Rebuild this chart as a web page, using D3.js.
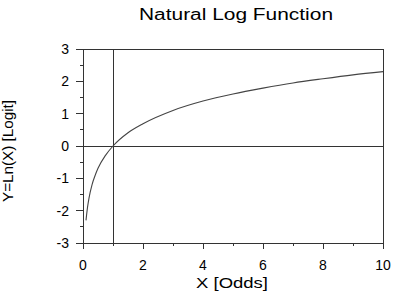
<!DOCTYPE html>
<html><head><meta charset="utf-8">
<script src="https://cdn.jsdelivr.net/npm/d3@7"></script>
<style>body{margin:0;background:#fff}svg{display:block}text{font-family:"Liberation Sans",Arial,sans-serif}</style>
</head><body><svg id="c" width="397" height="295"></svg>
<script>
const title = "Natural Log Function";
const xLabel = "X [Odds]";
const yLabel = "Y=Ln(X) [Logit]";
const xTicks = [0, 2, 4, 6, 8, 10];
const yTicks = [-3, -2, -1, 0, 1, 2, 3];
const xs = [0.1, 0.15, 0.2, 0.3, 0.4, 0.5, 0.75, 1, 1.5, 2, 3, 4, 5, 6, 7, 8, 9, 10];
const ys = [-2.30, -1.90, -1.61, -1.20, -0.92, -0.69, -0.29, 0, 0.41, 0.69, 1.10, 1.39, 1.61, 1.79, 1.95, 2.08, 2.20, 2.30];
const refX = [1];
const refY = [0];

const svg = d3.select("#c");
const m = {l: 83, r: 383, t: 49, b: 243};
const x = d3.scaleLinear().domain([0, 10]).range([m.l, m.r]);
const y = d3.scaleLinear().domain([-3, 3]).range([m.b, m.t]);
const ink = "#333";

// frame
svg.append("rect").attr("x", m.l).attr("y", m.t).attr("width", m.r - m.l).attr("height", m.b - m.t)
  .attr("fill", "none").attr("stroke", ink).attr("stroke-width", 1).attr("shape-rendering", "crispEdges");

// y ticks
const gy = svg.append("g").attr("transform", `translate(${m.l},0)`);
gy.selectAll(".tk").data(d3.range(-3, 3.01, 0.5)).join("line")
  .attr("x1", d => Number.isInteger(d) ? -7 : -3).attr("x2", 0)
  .attr("y1", d => y(d)).attr("y2", d => y(d)).attr("stroke", ink).attr("shape-rendering", "crispEdges");
gy.selectAll(".lb").data(yTicks).join("text")
  .attr("x", -14).attr("y", d => y(d)).attr("dy", "0.36em").attr("text-anchor", "end")
  .attr("font-size", 14).attr("fill", "#000").text(d => d);

// x ticks
const gx = svg.append("g").attr("transform", `translate(0,${m.b})`);
gx.selectAll(".tk").data(d3.range(0, 11, 1)).join("line")
  .attr("x1", d => x(d)).attr("x2", d => x(d)).attr("y1", 0).attr("y2", d => d % 2 === 0 ? 6 : 3)
  .attr("stroke", ink).attr("shape-rendering", "crispEdges");
gx.selectAll(".lb").data(xTicks).join("text")
  .attr("x", d => x(d)).attr("y", 27).attr("text-anchor", "middle")
  .attr("font-size", 14).attr("fill", "#000").text(d => d);

// reference lines
svg.selectAll(".rx").data(refX).join("line")
  .attr("x1", d => x(d)).attr("x2", d => x(d)).attr("y1", m.t).attr("y2", m.b)
  .attr("stroke", ink).attr("shape-rendering", "crispEdges");
svg.selectAll(".ry").data(refY).join("line")
  .attr("x1", m.l).attr("x2", m.r).attr("y1", d => y(d)).attr("y2", d => y(d))
  .attr("stroke", ink).attr("shape-rendering", "crispEdges");

// curve
const pts = xs.map((v, i) => [v, ys[i]]);
svg.append("path").datum(pts)
  .attr("d", d3.line().x(d => x(d[0])).y(d => y(d[1])).curve(d3.curveMonotoneX))
  .attr("fill", "none").attr("stroke", "#444").attr("stroke-width", 1.1);

// labels
svg.append("text").attr("x", 236).attr("y", 20).attr("text-anchor", "middle")
  .attr("font-size", 16).attr("textLength", 194).attr("lengthAdjust", "spacingAndGlyphs")
  .attr("fill", "#000").text(title);
svg.append("text").attr("x", 232).attr("y", 288).attr("text-anchor", "middle")
  .attr("font-size", 15).attr("textLength", 72).attr("lengthAdjust", "spacingAndGlyphs")
  .attr("fill", "#000").text(xLabel);
svg.append("text").attr("transform", `translate(13,151) rotate(-90)`).attr("text-anchor", "middle")
  .attr("font-size", 14).attr("textLength", 102).attr("lengthAdjust", "spacingAndGlyphs")
  .attr("fill", "#000").text(yLabel);
</script></body></html>
